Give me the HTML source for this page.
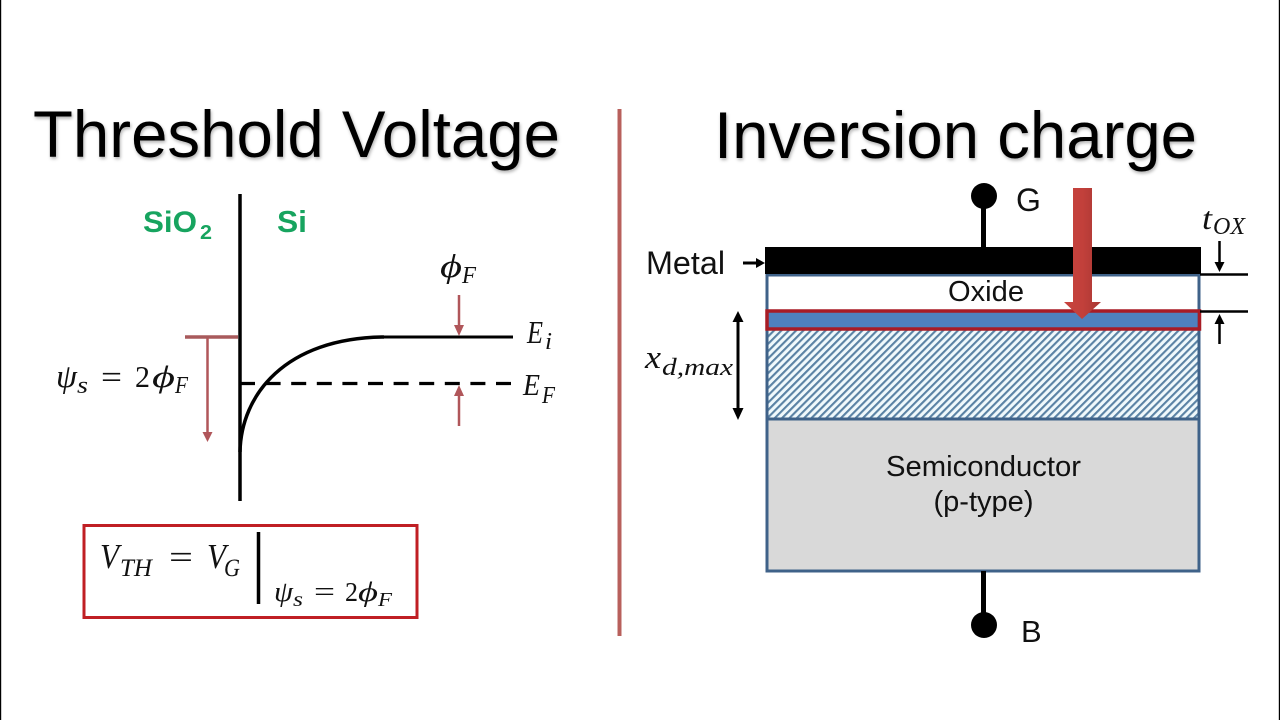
<!DOCTYPE html>
<html><head><meta charset="utf-8"><style>
html,body{margin:0;padding:0;background:#fff;width:1280px;height:720px;overflow:hidden}
svg{display:block}
.s{font-family:"Liberation Sans",sans-serif}
.m{font-family:"Liberation Serif","DejaVu Serif",serif;font-style:italic;fill:#111}
.n{font-family:"Liberation Serif","DejaVu Serif",serif;fill:#111}
</style></head><body>
<svg width="1280" height="720" viewBox="0 0 1280 720" xmlns="http://www.w3.org/2000/svg">
<defs>
<pattern id="h" width="5.2" height="5.2" patternUnits="userSpaceOnUse" patternTransform="rotate(45)">
<rect width="5.2" height="5.2" fill="#f0f9fc"/><rect width="2.1" height="5.2" fill="#5a82a4"/>
</pattern>
<linearGradient id="ra" x1="0" x2="1" y1="0" y2="0"><stop offset="0" stop-color="#c8433e"/><stop offset=".5" stop-color="#c2403b"/><stop offset="1" stop-color="#a83733"/></linearGradient>
<filter id="sh" x="-10%" y="-10%" width="120%" height="130%"><feDropShadow dx="1" dy="2" stdDeviation="1.5" flood-color="#000" flood-opacity=".3"/></filter>
</defs>
<rect width="1280" height="720" fill="#fff"/>
<rect x="0" y="0" width="1.2" height="720" fill="#000"/>
<rect x="1278.800" y="0" width="1.2" height="720" fill="#000"/>

<!-- titles -->
<text class="s" x="33" y="157" font-size="66" fill="#000" textLength="527" lengthAdjust="spacingAndGlyphs" filter="url(#sh)">Threshold Voltage</text>
<text class="s" x="714" y="158" font-size="66" fill="#000" textLength="483" lengthAdjust="spacingAndGlyphs" filter="url(#sh)">Inversion charge</text>
<rect x="617.500" y="109" width="4" height="527" fill="#b8605c"/>

<!-- left: band diagram -->
<text class="s" x="143" y="232" font-size="30" font-weight="bold" fill="#17a45f" textLength="54" lengthAdjust="spacingAndGlyphs">SiO</text>
<text class="s" x="200" y="239" font-size="20" font-weight="bold" fill="#17a45f" textLength="12" lengthAdjust="spacingAndGlyphs">2</text>
<text class="s" x="277" y="232" font-size="31" font-weight="bold" fill="#17a45f" textLength="30" lengthAdjust="spacingAndGlyphs">Si</text>
<line x1="240" y1="194" x2="240" y2="501" stroke="#000" stroke-width="3.500"/>
<line x1="185" y1="337" x2="238" y2="337" stroke="#a85a5c" stroke-width="3.500"/>
<line x1="207.500" y1="338" x2="207.500" y2="434" stroke="#b0565a" stroke-width="2.500"/>
<polygon points="202.500,432 212.500,432 207.500,442" fill="#b0565a"/>
<path d="M240 452 C241 395 285 338 384 337" fill="none" stroke="#000" stroke-width="3.500"/>
<line x1="384" y1="337" x2="513" y2="337" stroke="#000" stroke-width="3"/>
<line x1="240" y1="383.500" x2="511" y2="383.500" stroke="#000" stroke-width="3.200" stroke-dasharray="15,10.600"/>
<line x1="459" y1="295" x2="459" y2="330" stroke="#b0565a" stroke-width="2.500"/>
<polygon points="454,325 464,325 459,336" fill="#b0565a"/>
<line x1="459" y1="392" x2="459" y2="426" stroke="#b0565a" stroke-width="2.500"/>
<polygon points="454,396 464,396 459,385" fill="#b0565a"/>

<!-- psi_s = 2 phi_F -->
<text class="m" x="56" y="387" font-size="33" textLength="21" lengthAdjust="spacingAndGlyphs">ψ</text>
<text class="m" x="77" y="393" font-size="24" textLength="11" lengthAdjust="spacingAndGlyphs">s</text>
<text class="n" x="101" y="388" font-size="33" textLength="21" lengthAdjust="spacingAndGlyphs">=</text>
<text class="n" x="135" y="387" font-size="31" textLength="15" lengthAdjust="spacingAndGlyphs">2</text>
<text class="m" x="152" y="387" font-size="31" textLength="23" lengthAdjust="spacingAndGlyphs">ϕ</text>
<text class="m" x="175" y="393" font-size="24" textLength="13" lengthAdjust="spacingAndGlyphs">F</text>

<!-- phi_F -->
<text class="m" x="440" y="277" font-size="33" textLength="22" lengthAdjust="spacingAndGlyphs">ϕ</text>
<text class="m" x="462" y="283" font-size="24" textLength="14" lengthAdjust="spacingAndGlyphs">F</text>
<!-- E_i -->
<text class="m" x="527" y="343" font-size="32" textLength="16" lengthAdjust="spacingAndGlyphs">E</text>
<text class="m" x="545" y="349" font-size="24" textLength="7" lengthAdjust="spacingAndGlyphs">i</text>
<!-- E_F -->
<text class="m" x="523" y="395" font-size="31" textLength="17" lengthAdjust="spacingAndGlyphs">E</text>
<text class="m" x="542" y="403" font-size="24" textLength="13" lengthAdjust="spacingAndGlyphs">F</text>

<!-- formula box -->
<rect x="84" y="525.500" width="333" height="92" fill="#fff" stroke="#c01f24" stroke-width="3"/>
<text class="m" x="100" y="568" font-size="35" textLength="19" lengthAdjust="spacingAndGlyphs">V</text>
<text class="m" x="120" y="576" font-size="25" textLength="32" lengthAdjust="spacingAndGlyphs">TH</text>
<text class="n" x="169" y="568" font-size="33" textLength="24" lengthAdjust="spacingAndGlyphs">=</text>
<text class="m" x="207" y="568" font-size="35" textLength="19" lengthAdjust="spacingAndGlyphs">V</text>
<text class="m" x="224" y="576" font-size="25" textLength="16" lengthAdjust="spacingAndGlyphs">G</text>
<line x1="258.500" y1="532" x2="258.500" y2="604" stroke="#000" stroke-width="3.500"/>
<text class="m" x="274" y="601" font-size="28" textLength="19" lengthAdjust="spacingAndGlyphs">ψ</text>
<text class="m" x="293" y="606" font-size="20" textLength="10" lengthAdjust="spacingAndGlyphs">s</text>
<text class="n" x="314" y="601" font-size="28" textLength="21" lengthAdjust="spacingAndGlyphs">=</text>
<text class="n" x="345" y="601" font-size="27" textLength="13" lengthAdjust="spacingAndGlyphs">2</text>
<text class="m" x="358" y="601" font-size="27" textLength="20" lengthAdjust="spacingAndGlyphs">ϕ</text>
<text class="m" x="378" y="606" font-size="20" textLength="14" lengthAdjust="spacingAndGlyphs">F</text>

<!-- right: MOS stack -->
<line x1="983.500" y1="196" x2="983.500" y2="248" stroke="#000" stroke-width="5"/>
<circle cx="984" cy="196" r="13" fill="#000"/>
<text class="s" x="1016" y="211" font-size="32" fill="#111">G</text>

<rect x="767" y="275" width="432" height="296" fill="#fff"/>
<rect x="767" y="330" width="432" height="89" fill="url(#h)"/>
<rect x="767" y="419" width="432" height="152" fill="#d9d9d9"/>
<rect x="767" y="311" width="432" height="18" fill="#4f81bd"/>
<line x1="767" y1="419" x2="1199" y2="419" stroke="#3f6289" stroke-width="3"/>
<rect x="767" y="275" width="432" height="296" fill="none" stroke="#3f6289" stroke-width="3"/>
<rect x="765" y="247" width="436" height="27" fill="#000"/>
<rect x="767" y="311" width="432.500" height="18" fill="none" stroke="#a81c25" stroke-width="3.500"/>

<text class="s" x="986" y="301" font-size="29" fill="#111" text-anchor="middle" textLength="76" lengthAdjust="spacingAndGlyphs">Oxide</text>
<text class="s" x="983.500" y="476" font-size="29" fill="#111" text-anchor="middle" textLength="195" lengthAdjust="spacingAndGlyphs">Semiconductor</text>
<text class="s" x="983.500" y="511" font-size="29" fill="#111" text-anchor="middle" textLength="100" lengthAdjust="spacingAndGlyphs">(p-type)</text>

<line x1="983.500" y1="571" x2="983.500" y2="620" stroke="#000" stroke-width="5"/>
<circle cx="984" cy="625" r="13" fill="#000"/>
<text class="s" x="1021" y="642" font-size="31" fill="#111">B</text>

<!-- red arrow -->
<polygon points="1073,188 1092,188 1092,302 1101,302 1082,319 1064,302 1073,302" fill="url(#ra)"/>

<!-- metal label -->
<text class="s" x="646" y="274" font-size="32" fill="#111" textLength="79" lengthAdjust="spacingAndGlyphs">Metal</text>
<line x1="743" y1="263" x2="757" y2="263" stroke="#000" stroke-width="3"/>
<polygon points="756,258 765,263 756,268" fill="#000"/>

<!-- x_d,max -->
<line x1="738" y1="318" x2="738" y2="412" stroke="#000" stroke-width="3"/>
<polygon points="732.500,322 743.500,322 738,311" fill="#000"/>
<polygon points="732.500,408 743.500,408 738,420" fill="#000"/>
<text class="m" x="645" y="368" font-size="33" textLength="16" lengthAdjust="spacingAndGlyphs">x</text>
<text class="m" x="662" y="375" font-size="24" textLength="71" lengthAdjust="spacingAndGlyphs">d,max</text>

<!-- t_ox -->
<text class="m" x="1202" y="229" font-size="32" textLength="10" lengthAdjust="spacingAndGlyphs">t</text>
<text class="m" x="1213" y="234" font-size="24" textLength="32" lengthAdjust="spacingAndGlyphs">OX</text>
<line x1="1200" y1="274.500" x2="1248" y2="274.500" stroke="#000" stroke-width="2.500"/>
<line x1="1200" y1="311.500" x2="1248" y2="311.500" stroke="#000" stroke-width="2.500"/>
<line x1="1219.500" y1="241" x2="1219.500" y2="266" stroke="#000" stroke-width="2.500"/>
<polygon points="1214.500,262 1224.500,262 1219.500,272" fill="#000"/>
<line x1="1219.500" y1="322" x2="1219.500" y2="344" stroke="#000" stroke-width="2.500"/>
<polygon points="1214.500,324 1224.500,324 1219.500,314" fill="#000"/>
</svg>
</body></html>
